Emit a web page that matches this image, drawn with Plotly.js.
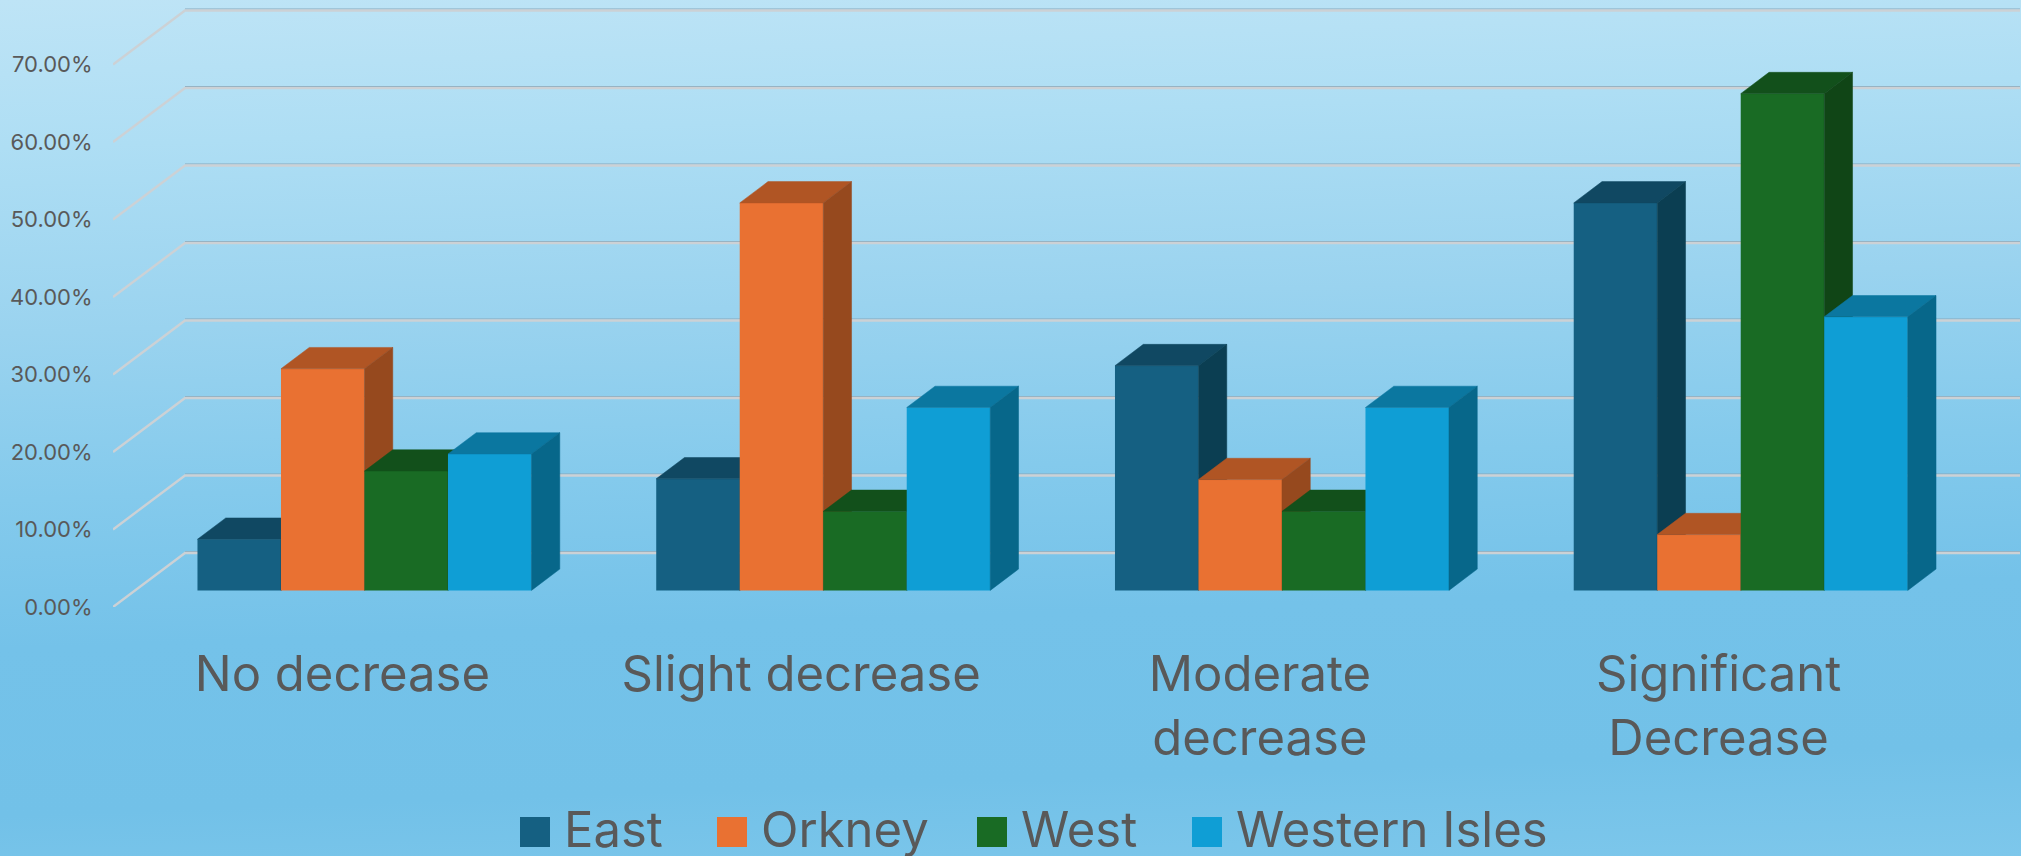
<!DOCTYPE html>
<html>
<head>
<meta charset="utf-8">
<script src="https://cdn.plot.ly/plotly-3.0.1.min.js"></script>
<style>
html,body{margin:0;padding:0;width:2021px;height:856px;overflow:hidden;
background:linear-gradient(178deg,#bee4f6 0%,#aedef4 16%,#9ad3ef 36%,#84caec 54%,#74c2e9 70%,#72c1e8 88%,#7dc7eb 100%);}
#chart{width:2021px;height:856px;}
</style>
</head>
<body>
<div id="chart"></div>
<script>
// ---- data ----
const categories = ["No decrease", "Slight decrease", "Moderate<br>decrease", "Significant<br>Decrease"];
const seriesNames = ["East", "Orkney", "West", "Western Isles"];
const east = [0.066, 0.144, 0.290, 0.500];
const orkney = [0.286, 0.500, 0.143, 0.072];
const west = [0.154, 0.102, 0.102, 0.641];
const westernIsles = [0.176, 0.236, 0.236, 0.353];
const yTicks = [0, 0.1, 0.2, 0.3, 0.4, 0.5, 0.6, 0.7];

const frontColors = ["#156082", "#E97132", "#196B24", "#0F9ED5"];
const topColors = ["#104862", "#B05524", "#12501B", "#0B77A0"];
const sideColors = ["#0B3E52", "#96491E", "#104516", "#07678A"];

// ---- geometry of the oblique projection, in axis units ----
const PXX = 458.75, PXY = 775;
const wallDx = 72 / PXX, wallDy = 54 / PXY;
const barShiftX = 22.1 / PXX, barBase = 16.6 / PXY;
const depthX = 28.3 / PXX, depthY = 21.3 / PXY;
const barW = 83.5 / PXX;
const xMin = -0.5, xMax = -0.5 + 1907 / PXX;
const FONT = "Inter, sans-serif";

const allSeries = [east, orkney, west, westernIsles];
const traces = [];

// grid walls
const gx = [], gy = [], gx2 = [], gy2 = [];
yTicks.forEach(v => {
  gx.push(xMin, xMin + wallDx, xMax, null);
  gy.push(v, v + wallDy, v + wallDy, null);
  gx2.push(xMin + wallDx, xMax, null);
  gy2.push(v + wallDy + 1.5 / PXY, v + wallDy + 1.5 / PXY, null);
});
traces.push({type: "scatter", mode: "lines", x: gx2, y: gy2, xaxis: "x", yaxis: "y",
  line: {color: "#86a8bd", width: 1}, hoverinfo: "skip", showlegend: false});
traces.push({type: "scatter", mode: "lines", x: gx, y: gy, xaxis: "x", yaxis: "y",
  line: {color: "#ccd1d5", width: 2.4}, hoverinfo: "skip", showlegend: false});

// each series gets its own overlaid subplot so that it paints over the one on its left
const layoutAxes = {};
allSeries.forEach((vals, s) => {
  const xa = "x" + (s + 2), ya = "y" + (s + 2);
  const off = barShiftX + (s - 2) * barW;
  const tx = [], ty = [], sx = [], sy = [];
  vals.forEach((v, i) => {
    const x0 = i + off, x1 = x0 + barW, t = barBase + v, b = barBase;
    tx.push(x0, x0 + depthX, x1 + depthX, x1, x0, null);
    ty.push(t, t + depthY, t + depthY, t, t, null);
    sx.push(x1, x1 + depthX, x1 + depthX, x1, x1, null);
    sy.push(b, b + depthY, t + depthY, t, b, null);
  });
  traces.push({type: "bar", name: seriesNames[s], x: [0, 1, 2, 3], y: vals, base: vals.map(() => barBase),
    width: barW, offset: off, xaxis: xa, yaxis: ya,
    marker: {color: frontColors[s], line: {width: 0}}, showlegend: false,
    hovertemplate: seriesNames[s] + ": %{y:.2%}<extra></extra>"});
  traces.push({type: "scatter", mode: "lines", x: tx, y: ty, xaxis: xa, yaxis: ya, fill: "toself",
    fillcolor: topColors[s], line: {color: topColors[s], width: 0.5}, hoverinfo: "skip", showlegend: false});
  traces.push({type: "scatter", mode: "lines", x: sx, y: sy, xaxis: xa, yaxis: ya, fill: "toself",
    fillcolor: sideColors[s], line: {color: sideColors[s], width: 0.5}, hoverinfo: "skip", showlegend: false});
  layoutAxes["xaxis" + (s + 2)] = {overlaying: "x", range: [xMin, xMax], visible: false, fixedrange: true};
  layoutAxes["yaxis" + (s + 2)] = {overlaying: "y", range: [0, 599 / PXY], visible: false, fixedrange: true};
});

// legend, drawn large as in the reference
const legendSquareX = [520, 717, 977, 1192];
const shapes = [], annotations = [];
seriesNames.forEach((n, s) => {
  shapes.push({type: "rect", xref: "paper", yref: "paper",
    x0: (legendSquareX[s] - 113) / 1907, x1: (legendSquareX[s] + 30 - 113) / 1907,
    y0: (607 - 847) / 599, y1: (607 - 817) / 599,
    fillcolor: frontColors[s], line: {width: 0}});
  annotations.push({xref: "paper", yref: "paper", x: (legendSquareX[s] + 42 - 113) / 1907,
    y: (607 - 829) / 599, xanchor: "left", yanchor: "middle", text: n, showarrow: false,
    font: {family: FONT, size: 49, color: "#595959"}});
});

const layout = Object.assign({
  width: 2021, height: 856,
  margin: {l: 113, r: 1, t: 8, b: 249, pad: 0},
  paper_bgcolor: "rgba(0,0,0,0)", plot_bgcolor: "rgba(0,0,0,0)",
  barmode: "overlay", showlegend: false,
  font: {family: FONT, color: "#595959"},
  xaxis: {range: [xMin, xMax], tickmode: "array", tickvals: [0, 1, 2, 3], ticktext: categories,
    showgrid: false, zeroline: false, showline: false, ticks: "outside", ticklen: 24,
    tickcolor: "rgba(0,0,0,0)", tickfont: {size: 49, color: "#595959", family: FONT}, fixedrange: true},
  yaxis: {range: [0, 599 / PXY], tickmode: "array", tickvals: yTicks, tickformat: ".2%",
    showgrid: false, zeroline: false, showline: false, ticks: "outside", ticklen: 15,
    tickcolor: "rgba(0,0,0,0)", tickfont: {size: 22, color: "#595959", family: FONT}, fixedrange: true},
  shapes, annotations
}, layoutAxes);

Plotly.newPlot("chart", traces, layout, {displayModeBar: false, staticPlot: true});
</script>
</body>
</html>
